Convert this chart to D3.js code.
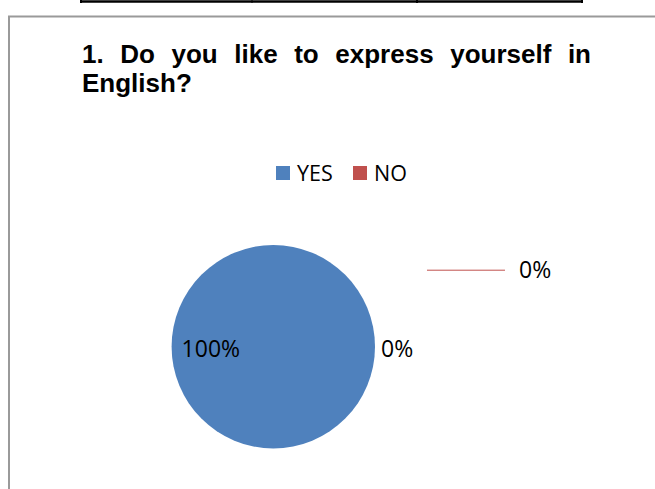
<!DOCTYPE html>
<html>
<head>
<meta charset="utf-8">
<script src="https://cdn.jsdelivr.net/npm/d3@7"></script>
<style>
  body { margin: 0; background: #fff; }
  svg { display: block; }
</style>
</head>
<body>
<script>
// chart data
var categories = ["YES", "NO"];
var values = [100, 0];
var colors = ["#4F81BD", "#C0504D"];
var titleLines = ["1. Do you like to express yourself in", "English?"];
var tableCols = [0, 1, 2, 3];

var width = 655, height = 489;

var svg = d3.select("body")
   .append("svg")
   .attr("width", width)
   .attr("height", height);

// table fragment at the top of the page
var tableX = d3.scaleLinear().domain([0, 1, 2, 3]).range([81, 252, 417, 582]);
svg.append("line")
   .attr("x1", tableX(0)).attr("x2", tableX(3))
   .attr("y1", 1.5).attr("y2", 1.5)
   .attr("stroke", "#000").attr("stroke-width", 2.5);
svg.selectAll(".tcol")
   .data(tableCols)
   .enter()
   .append("line")
   .attr("class", "tcol")
   .attr("x1", function(d){ return tableX(d); })
   .attr("x2", function(d){ return tableX(d); })
   .attr("y1", 0).attr("y2", 3)
   .attr("stroke", "#000")
   .attr("stroke-width", function(d){ return d == 1 ? 1 : 2; });

// chart box
svg.append("path")
   .attr("d", "M9,489 V16.5 H655")
   .attr("fill", "none")
   .attr("stroke", "#9a9a9a")
   .attr("stroke-width", 2);

// title, justified on the first line
var titleLeft = 82, titleRight = 591;
titleLines.forEach(function(line, i){
    var words = line.split(" ");
    var y = 62.5 + i * 29.5;
    var g = svg.append("g");
    var texts = g.selectAll("text")
       .data(words)
       .enter()
       .append("text")
       .text(function(d){ return d; })
       .attr("y", y)
       .style("font-family", "'Liberation Sans', Arial, sans-serif")
       .style("font-weight", "bold")
       .style("font-size", "26px")
       .attr("fill", "#000");
    var widths = [];
    texts.each(function(){ widths.push(this.getComputedTextLength()); });
    var gap = 7.2;
    if (i < titleLines.length - 1 && words.length > 1) {
        gap = (titleRight - titleLeft - d3.sum(widths)) / (words.length - 1);
    }
    var x = titleLeft;
    texts.attr("x", function(d, j){
        var px = x;
        x += widths[j] + gap;
        return px;
    });
});

// legend
var legend = svg.append("g").attr("transform", "translate(276,166)");
var legendX = d3.scaleOrdinal().domain(categories).range([0, 77]);
var items = legend.selectAll("g")
   .data(categories)
   .enter()
   .append("g")
   .attr("transform", function(d){ return "translate(" + legendX(d) + ",0)"; });
items.append("rect")
   .attr("width", 14).attr("height", 14)
   .attr("fill", function(d, i){ return colors[i]; });
items.append("text")
   .text(function(d){ return d; })
   .attr("x", 21).attr("y", 14.5)
   .style("font-family", "'Open Sans', sans-serif")
   .style("font-size", "21.5px")
   .attr("fill", "#000");

// pie
var cx = 273.3, cy = 346.7, r = 101.7;
var pie = d3.pie().sort(null).value(function(d){ return d; });
var arc = d3.arc().innerRadius(0).outerRadius(r);
var arcs = pie(values);
var pieG = svg.append("g").attr("transform", "translate(" + cx + "," + cy + ")");
pieG.selectAll("path")
   .data(arcs)
   .enter()
   .append("path")
   .attr("d", arc)
   .attr("fill", function(d, i){ return colors[i]; });

// data labels
var pct = function(v){ return Math.round(v / d3.sum(values) * 100) + "%"; };
var labelFont = "'Open Sans', sans-serif";
pieG.append("text")
   .text(pct(values[0]))
   .attr("x", -r + 10).attr("y", 10)
   .style("font-family", labelFont).style("font-size", "23px")
   .attr("fill", "#000");
pieG.append("text")
   .text(pct(values[1]))
   .attr("x", r + 6).attr("y", 10)
   .style("font-family", labelFont).style("font-size", "23px")
   .attr("fill", "#000");

// leader line label
pieG.append("line")
   .attr("x1", r + 52).attr("x2", r + 130)
   .attr("y1", -76.5).attr("y2", -76.5)
   .attr("stroke", colors[1]).attr("stroke-width", 1);
pieG.append("text")
   .text(pct(values[1]))
   .attr("x", r + 144).attr("y", -68.5)
   .style("font-family", labelFont).style("font-size", "23px")
   .attr("fill", "#000");
</script>
</body>
</html>
